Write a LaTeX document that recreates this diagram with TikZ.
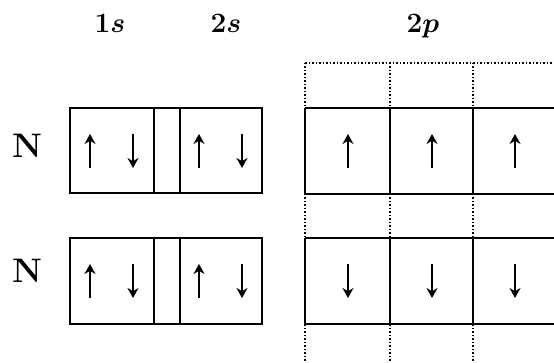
\RequirePackage{fix-cm}
\documentclass[tikz,border=0pt]{standalone}
\usepackage{amsmath,amssymb}
\usepackage{tikz}
\usetikzlibrary{arrows.meta,positioning}

\begin{document}
\begin{tikzpicture}[x=1pt,y=-1pt,>=Stealth, every node/.style={inner sep=0pt}]
    \tikzset{cell/.style={line width=1.6pt}}
    \tikzset{ghost/.style={line width=1.5pt,dotted}}
    \tikzset{spin/.style={line width=1.5pt,-{Stealth[length=10pt,width=11pt]}}}
    \tikzset{atom/.style={anchor=base,font=\fontsize{34}{38}\selectfont\bfseries}}
    \tikzset{shell/.style={anchor=base,font=\fontsize{28}{32}\selectfont\boldmath}}
    \useasboundingbox (0,0) rectangle (554,363);

    % Headings
    \node[shell] (h1s) at (110,33) {$1s$};
    \node[shell] (h2s) at (226,33) {$2s$};
    \node[shell] (h2p) at (423,33) {$2p$};

    % Atoms
    \node[atom] (n1) at (27,158) {N};
    \node[atom] (n2) at (27,283) {N};

    % s shells
    \foreach \t/\b in {108/193,238/324} {
      \draw[cell] (70,\t) rectangle (262,\b);
      \draw[cell] (154,\t) -- (154,\b) (180,\t) -- (180,\b);
    }

    % p shell
    \draw[ghost] (305,63) -- (558,63);
    \foreach \x in {305,390,473,557} {
      \draw[ghost] (\x,63) -- (\x,108);
      \draw[ghost] (\x,194) -- (\x,238);
      \draw[ghost] (\x,324) -- (\x,363);
      \draw[cell] (\x,108) -- (\x,194);
      \draw[cell] (\x,238) -- (\x,324);
    }
    \foreach \y in {108,194,238,324} \draw[cell] (305,\y) -- (558,\y);

    % Spins
    \foreach \x/\n in {90/a,133/b,199/c,242/d,348/e,432/f,515/g} {
      \coordinate (top\n) at (\x,151);
      \coordinate (bot\n) at (\x,281);
    }
    \foreach \n in {a,c,e,f,g} \draw[spin] ([yshift=-17pt]top\n) -- ([yshift=17pt]top\n);
    \foreach \n in {b,d} \draw[spin] ([yshift=17pt]top\n) -- ([yshift=-17pt]top\n);
    \foreach \n in {a,c} \draw[spin] ([yshift=-17pt]bot\n) -- ([yshift=17pt]bot\n);
    \foreach \n in {b,d,e,f,g} \draw[spin] ([yshift=17pt]bot\n) -- ([yshift=-17pt]bot\n);
  \end{tikzpicture}
\end{document}
